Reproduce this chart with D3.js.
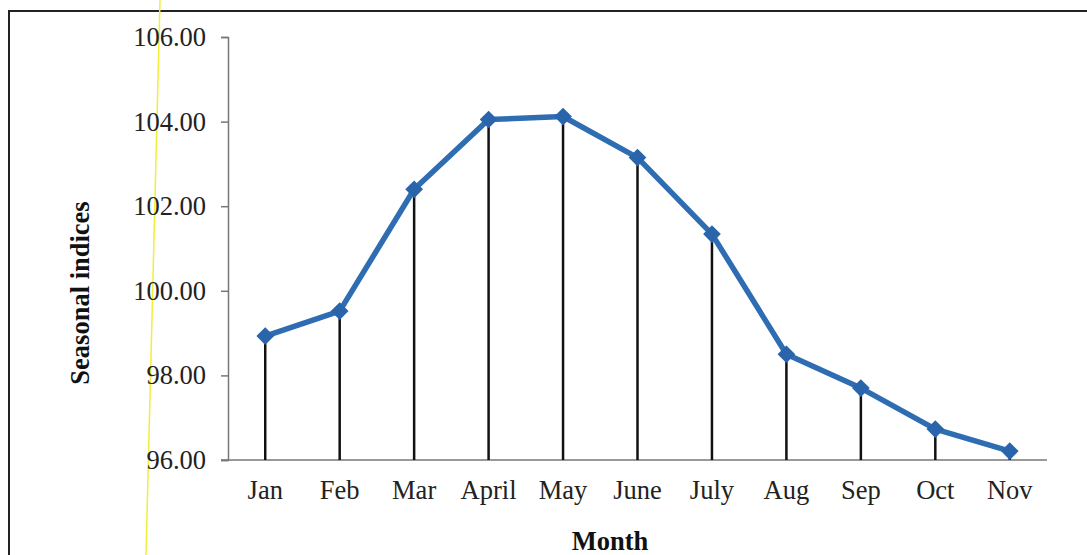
<!DOCTYPE html>
<html>
<head>
<meta charset="utf-8">
<script src="https://cdn.jsdelivr.net/npm/d3@7"></script>
<style>
  html, body { margin: 0; padding: 0; background: #fff; }
  svg { display: block; }
</style>
</head>
<body>
<svg id="chart" width="1087" height="555"></svg>
<script>
// Monthly seasonal indices
const months = ["Jan", "Feb", "Mar", "April", "May", "June", "July", "Aug", "Sep", "Oct", "Nov"];
const indices = [98.93, 99.52, 102.40, 104.05, 104.12, 103.15, 101.34, 98.50, 97.70, 96.73, 96.21];
const yTicks = [96, 98, 100, 102, 104, 106];

const svg = d3.select("#chart");
const W = 1087, H = 555;
const plot = { left: 228, right: 1047, top: 37, bottom: 460 };
const font = "'Liberation Serif', 'Times New Roman', serif";
const fs = 26.5;

// Outer frame (left and top edges)
svg.append("path")
  .attr("d", `M9,${H} L9,11 L${W},11`)
  .attr("fill", "none")
  .attr("stroke", "#222")
  .attr("stroke-width", 2);

// Thin yellow guide line
svg.append("line")
  .attr("x1", 160).attr("y1", 0)
  .attr("x2", 146).attr("y2", H)
  .attr("stroke", "#f2ef3a")
  .attr("stroke-width", 1.5);

const x = d3.scaleBand().domain(months).range([plot.left, plot.right]).paddingInner(0).paddingOuter(0);
const y = d3.scaleLinear().domain([96, 106]).range([plot.bottom, plot.top]);
const cx = m => x(m) + x.bandwidth() / 2;

// Y axis
const yAxis = svg.append("g")
  .attr("transform", `translate(${plot.left},0)`)
  .call(d3.axisLeft(y).tickValues(yTicks).tickFormat(d3.format(".2f")).tickSize(7).tickPadding(15));
yAxis.select(".domain").attr("stroke", "#777").attr("stroke-width", 1.5);
yAxis.selectAll(".tick line").attr("stroke", "#777").attr("stroke-width", 1.5);
yAxis.selectAll(".tick text")
  .attr("font-family", font).attr("font-size", fs).attr("fill", "#222");

// X axis
const xAxis = svg.append("g")
  .attr("transform", `translate(0,${plot.bottom})`)
  .call(d3.axisBottom(x).tickSize(0).tickPadding(20));
xAxis.select(".domain")
  .attr("d", `M${plot.left - 7},0H${plot.right}`)
  .attr("stroke", "#777").attr("stroke-width", 1.5);
xAxis.selectAll(".tick text")
  .attr("font-family", font).attr("font-size", fs).attr("fill", "#222");

// Drop lines from each point to the axis
svg.append("g").selectAll("line")
  .data(months)
  .join("line")
  .attr("x1", d => cx(d)).attr("x2", d => cx(d))
  .attr("y1", (d, i) => y(indices[i]))
  .attr("y2", y(96))
  .attr("stroke", "#111")
  .attr("stroke-width", 2.5);

// Series line
const line = d3.line().x(d => cx(d[0])).y(d => y(d[1]));
svg.append("path")
  .datum(months.map((m, i) => [m, indices[i]]))
  .attr("d", line)
  .attr("fill", "none")
  .attr("stroke", "#2f6db3")
  .attr("stroke-width", 5.5)
  .attr("stroke-linejoin", "round");

// Diamond markers
svg.append("g").selectAll("path")
  .data(months)
  .join("path")
  .attr("transform", (d, i) => `translate(${cx(d)},${y(indices[i])})`)
  .attr("d", d3.symbol(d3.symbolDiamond2, 200)())
  .attr("fill", "#2a65ab");

// Axis titles
svg.append("text")
  .attr("transform", `translate(89,293) rotate(-90)`)
  .attr("text-anchor", "middle")
  .attr("font-family", font).attr("font-size", fs).attr("font-weight", "bold").attr("fill", "#111")
  .text("Seasonal indices");

svg.append("text")
  .attr("x", 610).attr("y", 550)
  .attr("text-anchor", "middle")
  .attr("font-family", font).attr("font-size", fs).attr("font-weight", "bold").attr("fill", "#111")
  .text("Month");
</script>
</body>
</html>
